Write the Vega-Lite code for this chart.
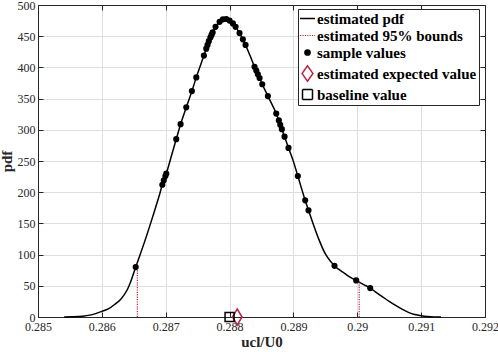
{
  "$schema": "https://vega.github.io/schema/vega-lite/v6.json",
  "width": 447,
  "height": 312,
  "autosize": {"type": "none"},
  "padding": {"left": 38, "top": 5, "right": 13, "bottom": 35},
  "background": "white",
  "config": {
    "view": {"stroke": null},
    "font": "Liberation Serif",
    "axis": {
      "labelFont": "Liberation Serif", "labelFontSize": 12, "labelColor": "#262626",
      "domainColor": "#262626", "domainWidth": 1, "tickColor": "#262626", "tickSize": -5, "tickWidth": 1,
      "labelPadding": 8, "gridColor": "#dedede", "gridWidth": 1,
      "titleFont": "Liberation Serif", "titleFontSize": 15, "titleFontWeight": "bold", "titleColor": "#262626",
      "labelFlush": false, "labelOverlap": false, "titlePadding": 3
    },
    "axisX": {"labelPadding": 9, "titlePadding": 2},
    "legend": {
      "labelFont": "Liberation Serif", "labelFontSize": 15, "labelFontWeight": "bold", "labelColor": "black",
      "strokeColor": "#262626", "fillColor": "white", "padding": 2, "rowPadding": 1,
      "symbolSize": 225, "labelLimit": 300, "labelOffset": 2, "symbolStrokeWidth": 1.5
    }
  },
  "datasets": {
    "curve": [
      {"x": 0.28541, "pdf": 0}, {"x": 0.28555, "pdf": 0.3}, {"x": 0.2857, "pdf": 1.3}, {"x": 0.28585, "pdf": 3.8},
      {"x": 0.286, "pdf": 9}, {"x": 0.2861, "pdf": 13}, {"x": 0.2862, "pdf": 20}, {"x": 0.2863, "pdf": 29},
      {"x": 0.2864, "pdf": 44}, {"x": 0.28645, "pdf": 56}, {"x": 0.28653, "pdf": 80}, {"x": 0.2866, "pdf": 100},
      {"x": 0.2867, "pdf": 130}, {"x": 0.2868, "pdf": 162}, {"x": 0.2869, "pdf": 195}, {"x": 0.286947, "pdf": 212},
      {"x": 0.28697, "pdf": 219}, {"x": 0.286995, "pdf": 226}, {"x": 0.287009, "pdf": 230}, {"x": 0.2871, "pdf": 262},
      {"x": 0.287165, "pdf": 285}, {"x": 0.287233, "pdf": 309}, {"x": 0.287322, "pdf": 336}, {"x": 0.28741, "pdf": 362},
      {"x": 0.287479, "pdf": 384}, {"x": 0.287598, "pdf": 419}, {"x": 0.287635, "pdf": 430}, {"x": 0.287655, "pdf": 436},
      {"x": 0.287675, "pdf": 442}, {"x": 0.2877, "pdf": 448}, {"x": 0.287718, "pdf": 452}, {"x": 0.287735, "pdf": 456},
      {"x": 0.28778, "pdf": 465}, {"x": 0.287844, "pdf": 473}, {"x": 0.287895, "pdf": 477}, {"x": 0.287948, "pdf": 477.5},
      {"x": 0.288, "pdf": 475}, {"x": 0.288052, "pdf": 470.5}, {"x": 0.288094, "pdf": 465}, {"x": 0.288156, "pdf": 455},
      {"x": 0.288208, "pdf": 445}, {"x": 0.28825, "pdf": 436}, {"x": 0.28832, "pdf": 419}, {"x": 0.288391, "pdf": 401},
      {"x": 0.288418, "pdf": 395}, {"x": 0.288443, "pdf": 389}, {"x": 0.28847, "pdf": 383}, {"x": 0.288512, "pdf": 373},
      {"x": 0.2886, "pdf": 354}, {"x": 0.288731, "pdf": 326}, {"x": 0.288772, "pdf": 315}, {"x": 0.288794, "pdf": 308},
      {"x": 0.288819, "pdf": 301}, {"x": 0.288861, "pdf": 289}, {"x": 0.288923, "pdf": 271}, {"x": 0.289, "pdf": 249},
      {"x": 0.289069, "pdf": 226}, {"x": 0.289184, "pdf": 187}, {"x": 0.289236, "pdf": 171}, {"x": 0.2893, "pdf": 152},
      {"x": 0.2894, "pdf": 124}, {"x": 0.2895, "pdf": 101}, {"x": 0.2896, "pdf": 87}, {"x": 0.289643, "pdf": 82},
      {"x": 0.2897, "pdf": 77}, {"x": 0.2898, "pdf": 70}, {"x": 0.2899, "pdf": 63}, {"x": 0.289983, "pdf": 58.6},
      {"x": 0.2901, "pdf": 52}, {"x": 0.290202, "pdf": 46.4}, {"x": 0.2903, "pdf": 39}, {"x": 0.2904, "pdf": 32},
      {"x": 0.2905, "pdf": 25}, {"x": 0.2906, "pdf": 18.5}, {"x": 0.2907, "pdf": 12.5}, {"x": 0.2908, "pdf": 7.5},
      {"x": 0.2909, "pdf": 4}, {"x": 0.291, "pdf": 2}, {"x": 0.2911, "pdf": 0.8}, {"x": 0.2912, "pdf": 0.2},
      {"x": 0.29131, "pdf": 0}
    ],
    "samples": [
      {"x": 0.28653, "pdf": 80}, {"x": 0.286947, "pdf": 212}, {"x": 0.28697, "pdf": 219}, {"x": 0.286995, "pdf": 226},
      {"x": 0.287009, "pdf": 230}, {"x": 0.287165, "pdf": 285}, {"x": 0.287233, "pdf": 309}, {"x": 0.287322, "pdf": 336},
      {"x": 0.28741, "pdf": 362}, {"x": 0.287479, "pdf": 384}, {"x": 0.287598, "pdf": 419}, {"x": 0.287635, "pdf": 430},
      {"x": 0.287655, "pdf": 436}, {"x": 0.287675, "pdf": 442}, {"x": 0.2877, "pdf": 448}, {"x": 0.287718, "pdf": 452},
      {"x": 0.287735, "pdf": 456}, {"x": 0.28778, "pdf": 465}, {"x": 0.287844, "pdf": 473}, {"x": 0.287895, "pdf": 477},
      {"x": 0.287948, "pdf": 477.5}, {"x": 0.288, "pdf": 475}, {"x": 0.288052, "pdf": 470.5}, {"x": 0.288094, "pdf": 465},
      {"x": 0.288156, "pdf": 455}, {"x": 0.288208, "pdf": 445}, {"x": 0.28825, "pdf": 436}, {"x": 0.288391, "pdf": 401},
      {"x": 0.288418, "pdf": 395}, {"x": 0.288443, "pdf": 389}, {"x": 0.28847, "pdf": 383}, {"x": 0.288512, "pdf": 373},
      {"x": 0.2886, "pdf": 354}, {"x": 0.288731, "pdf": 326}, {"x": 0.288772, "pdf": 315}, {"x": 0.288794, "pdf": 308},
      {"x": 0.288819, "pdf": 301}, {"x": 0.288861, "pdf": 289}, {"x": 0.288923, "pdf": 271}, {"x": 0.289069, "pdf": 226},
      {"x": 0.289184, "pdf": 187}, {"x": 0.289236, "pdf": 171}, {"x": 0.289643, "pdf": 82}, {"x": 0.289983, "pdf": 58.6},
      {"x": 0.290202, "pdf": 46.4}
    ],
    "bounds": [
      {"x": 0.286556, "lo": 0, "hi": 86},
      {"x": 0.29003, "lo": 0, "hi": 57}
    ],
    "expected": [{"x": 0.28812, "pdf": 0}],
    "baseline": [{"x": 0.288, "pdf": 0}]
  },
  "layer": [
    {
      "data": {"name": "curve"},
      "mark": {"type": "line", "strokeWidth": 1.5, "interpolate": "monotone"},
      "encoding": {
        "x": {
          "field": "x", "type": "quantitative",
          "scale": {"domain": [0.285, 0.292], "nice": false, "zero": false},
          "axis": {"orient": "bottom", "values": [0.285, 0.286, 0.287, 0.288, 0.289, 0.29, 0.291, 0.292], "format": "~g", "grid": true, "title": "ucl/U0"}
        },
        "y": {
          "field": "pdf", "type": "quantitative",
          "scale": {"domain": [0, 500], "nice": false, "zero": false},
          "axis": {"orient": "left", "values": [0, 50, 100, 150, 200, 250, 300, 350, 400, 450, 500], "grid": true, "title": "pdf"}
        },
        "color": {
          "datum": "estimated pdf",
          "scale": {
            "domain": ["estimated pdf", "estimated 95% bounds", "sample values", "estimated expected value", "baseline value"],
            "range": ["black", "#B82343", "black", "#B82343", "black"]
          },
          "legend": {
            "title": null,
            "orient": "none",
            "legendX": 260,
            "legendY": 4,
            "labelFont": "Liberation Serif",
            "labelFontWeight": "bold",
            "labelFontSize": 15,
            "encode": {
              "symbols": {
                "update": {
                  "shape": {"signal": "datum.value == 'sample values' ? 'circle' : datum.value == 'estimated expected value' ? 'M0,-1L0.7,0L0,1L-0.7,0Z' : datum.value == 'baseline value' ? 'square' : 'stroke'"},
                  "fill": {"signal": "datum.value == 'sample values' ? 'black' : 'white'"},
                  "fillOpacity": {"signal": "datum.value == 'sample values' ? 1 : 0"},
                  "stroke": {"signal": "datum.value == 'sample values' ? 'black' : (datum.value == 'estimated 95% bounds' || datum.value == 'estimated expected value') ? '#B82343' : 'black'"},
                  "strokeDash": {"signal": "datum.value == 'estimated 95% bounds' ? [1.2, 1.2] : [1, 0]"},
                  "size": {"signal": "datum.value == 'sample values' ? 45 : datum.value == 'estimated expected value' ? 240 : datum.value == 'baseline value' ? 100 : 225"},
                  "strokeWidth": {"signal": "datum.value == 'estimated 95% bounds' ? 1.2 : datum.value == 'sample values' ? 0 : 1.5"},
                  "opacity": {"value": 1}
                }
              }
            }
          }
        }
      }
    },
    {
      "data": {"name": "bounds"},
      "mark": {"type": "rule", "strokeWidth": 1.2, "strokeDash": [1.2, 1.2]},
      "encoding": {
        "x": {
          "field": "x", "type": "quantitative",
          "axis": {"orient": "top", "values": [0.285, 0.286, 0.287, 0.288, 0.289, 0.29, 0.291, 0.292], "labels": false, "grid": false, "title": null}
        },
        "y": {
          "field": "lo", "type": "quantitative",
          "axis": {"orient": "right", "values": [0, 50, 100, 150, 200, 250, 300, 350, 400, 450, 500], "labels": false, "grid": false, "title": null}
        },
        "y2": {"field": "hi"},
        "color": {"datum": "estimated 95% bounds"}
      }
    },
    {
      "data": {"name": "samples"},
      "mark": {"type": "circle", "size": 38, "opacity": 1},
      "encoding": {
        "x": {"field": "x", "type": "quantitative", "axis": null},
        "y": {"field": "pdf", "type": "quantitative", "axis": null},
        "color": {"datum": "sample values"}
      }
    },
    {
      "data": {"name": "expected"},
      "mark": {"type": "point", "filled": false, "shape": "M0,-1L0.6,0L0,1L-0.6,0Z", "size": 256, "strokeWidth": 1.5, "opacity": 1},
      "encoding": {
        "x": {"field": "x", "type": "quantitative", "axis": null},
        "y": {"field": "pdf", "type": "quantitative", "axis": null},
        "color": {"datum": "estimated expected value"}
      }
    },
    {
      "data": {"name": "baseline"},
      "mark": {"type": "point", "filled": false, "shape": "square", "size": 81, "strokeWidth": 1.5, "opacity": 1},
      "encoding": {
        "x": {"field": "x", "type": "quantitative", "axis": null},
        "y": {"field": "pdf", "type": "quantitative", "axis": null},
        "color": {"datum": "baseline value"}
      }
    }
  ]
}
